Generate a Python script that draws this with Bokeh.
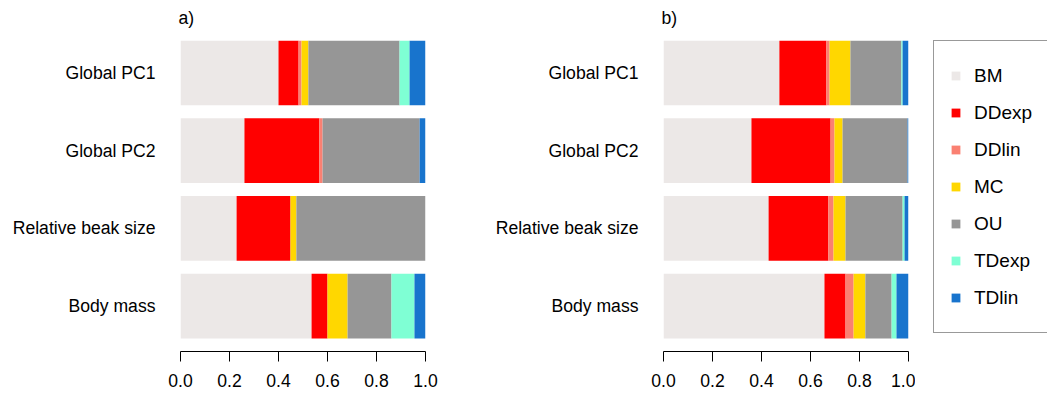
from bokeh.plotting import figure
from bokeh.models import (ColumnDataSource, Range1d, FixedTicker, NumeralTickFormatter,
                          Legend, LegendItem)
from bokeh.layouts import row
from bokeh.embed import file_html
from bokeh.resources import INLINE

# Traits, listed bottom to top as they are stacked on the y axis
traits = ["Body mass", "Relative beak size", "Global PC2", "Global PC1"]

# Evolutionary models and their colours
models = ["BM", "DDexp", "DDlin", "MC", "OU", "TDexp", "TDlin"]
colors = ["#ECE8E7", "#FF0000", "#FA8072", "#FFD700", "#969696", "#7FFFD4", "#1874CD"]

# Panel a) model weights per trait (same order as traits)
a_BM    = [0.535, 0.229, 0.261, 0.400]
a_DDexp = [0.065, 0.220, 0.306, 0.082]
a_DDlin = [0.000, 0.000, 0.013, 0.012]
a_MC    = [0.082, 0.024, 0.000, 0.028]
a_OU    = [0.179, 0.527, 0.396, 0.372]
a_TDexp = [0.094, 0.000, 0.000, 0.041]
a_TDlin = [0.045, 0.000, 0.024, 0.065]

# Panel b) model weights per trait
b_BM    = [0.657, 0.429, 0.359, 0.473]
b_DDexp = [0.086, 0.244, 0.323, 0.192]
b_DDlin = [0.033, 0.021, 0.016, 0.013]
b_MC    = [0.048, 0.049, 0.033, 0.085]
b_OU    = [0.107, 0.233, 0.265, 0.208]
b_TDexp = [0.020, 0.008, 0.000, 0.005]
b_TDlin = [0.049, 0.016, 0.004, 0.024]

x_ticks = [0.0, 0.2, 0.4, 0.6, 0.8, 1.0]

FONT = "Liberation Sans"
BAR_H = 1.0
GAP = 0.2
ys = [GAP + (BAR_H + GAP) * i + BAR_H / 2 for i in range(len(traits))]
y_top = (BAR_H + GAP) * len(traits)


def panel(tag, weights, width, border_left, border_right):
    data = dict(y=ys)
    for m, w in zip(models, weights):
        data[m] = w
    src = ColumnDataSource(data)

    p = figure(width=width, height=394,
               x_range=Range1d(0, 1), y_range=Range1d(0, y_top),
               output_backend="svg", toolbar_location=None,
               min_border_left=border_left, min_border_right=border_right,
               min_border_top=40, min_border_bottom=43)
    p.hbar_stack(models, y="y", height=BAR_H, fill_color=colors,
                 line_color=None, source=src)

    p.outline_line_color = None
    p.grid.visible = False
    p.background_fill_color = "white"
    p.border_fill_color = "white"

    p.title.text = tag
    p.title.align = "left"
    p.title.offset = -2
    p.title.padding = dict(left=0, right=0, top=0, bottom=8)
    p.title.text_font = FONT
    p.title.text_font_size = "17.6px"
    p.title.text_font_style = "normal"
    p.title.text_color = "black"

    xa = p.xaxis[0]
    xa.ticker = FixedTicker(ticks=x_ticks)
    xa.formatter = NumeralTickFormatter(format="0.0")
    xa.minor_tick_line_color = None
    xa.major_tick_in = 0
    xa.major_tick_out = 10
    xa.axis_line_color = "black"
    xa.major_tick_line_color = "black"
    xa.major_label_standoff = 12
    xa.major_label_text_font = FONT
    xa.major_label_text_font_size = "17.6px"
    xa.major_label_text_color = "black"

    ya = p.yaxis[0]
    ya.ticker = FixedTicker(ticks=ys)
    ya.major_label_overrides = {y: t for y, t in zip(ys, traits)}
    ya.axis_line_color = None
    ya.major_tick_line_color = None
    ya.minor_tick_line_color = None
    ya.major_tick_in = 0
    ya.major_tick_out = 0
    ya.major_label_standoff = 25
    ya.major_label_text_font = FONT
    ya.major_label_text_font_size = "17.6px"
    ya.major_label_text_color = "black"
    return p


pa = panel("a)", [a_BM, a_DDexp, a_DDlin, a_MC, a_OU, a_TDexp, a_TDlin],
           width=440, border_left=180, border_right=15)
pb = panel("b)", [b_BM, b_DDexp, b_DDlin, b_MC, b_OU, b_TDexp, b_TDlin],
           width=475, border_left=223, border_right=7)

# Legend panel: a blank plot whose only content is the model key
leg = figure(width=132, height=394, x_range=Range1d(0, 1), y_range=Range1d(0, 1),
             x_axis_type=None, y_axis_type=None, output_backend="svg",
             toolbar_location=None, min_border=0, min_border_left=18,
             min_border_top=40, min_border_bottom=43)
leg.outline_line_color = None
leg.grid.visible = False

items = []
for m, c in zip(models, colors):
    # swatch-only renderer: a single empty-area quad carrying the model colour
    r = leg.quad(left=[-1.0], right=[-1.0], top=[-1.0], bottom=[-1.0],
                 fill_color=c, line_color=None)
    items.append(LegendItem(label=m, renderers=[r]))

legend = Legend(items=items, location="top_left",
                padding=16, spacing=0, margin=0,
                glyph_width=11, glyph_height=11,
                label_height=37, label_width=90, label_standoff=13,
                label_text_font=FONT, label_text_font_size="19px",
                label_text_color="black",
                border_line_color="#333333", border_line_width=1,
                background_fill_color="white", background_fill_alpha=1.0)
leg.add_layout(legend)

layout = row(pa, pb, leg)
open("out.html", "w").write(file_html(layout, INLINE))
